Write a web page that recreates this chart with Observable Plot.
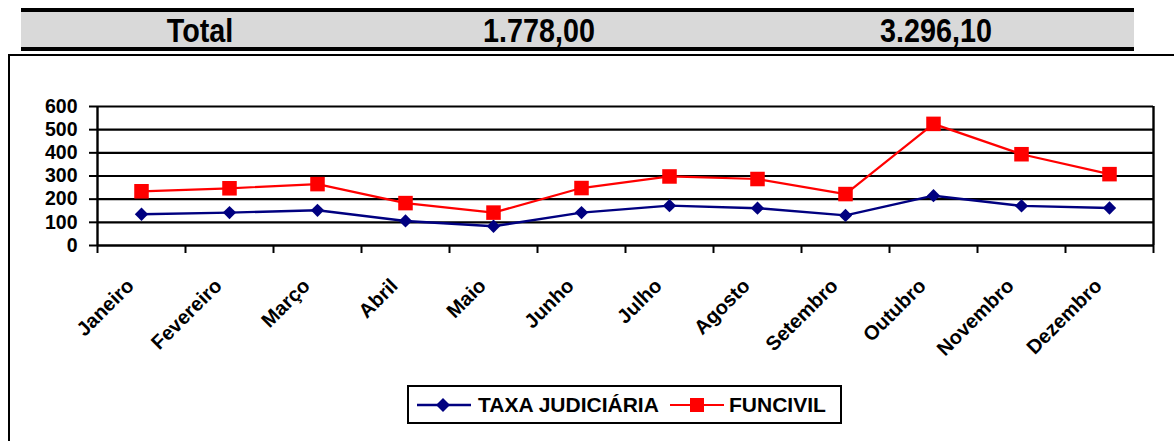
<!DOCTYPE html>
<html>
<head>
<meta charset="utf-8">
<script src="https://cdn.jsdelivr.net/npm/d3@7"></script>
<script src="https://cdn.jsdelivr.net/npm/@observablehq/plot@0.6"></script>
<style>
  html, body { margin: 0; padding: 0; background: #fff; }
  #page { position: relative; width: 1174px; height: 441px; overflow: hidden; font-family: "Liberation Sans", Arial, sans-serif; }
  #band { position: absolute; left: 21px; top: 8px; width: 1113px; height: 35px; background: #d9d9d9;
          border-top: 4px solid #000; border-bottom: 4px solid #000; }
  .bt { position: absolute; top: 0; height: 35px; line-height: 37px; font-family: "Liberation Sans", Arial, sans-serif;
        font-weight: bold; font-size: 33px; transform: translateX(-50%) scaleX(0.87); transform-origin: 50% 50%; white-space: nowrap; color: #000; }
  #frame { position: absolute; left: 8px; top: 54px; width: 1200px; height: 420px; border: 2px solid #000; box-sizing: border-box; }
  #chart { position: absolute; left: 0; top: 57px; }
  #legend { position: absolute; left: 407px; top: 385px; width: 435px; height: 39px; border: 2px solid #000; box-sizing: border-box; background: #fff; }
  #legend svg { position: absolute; left: 0; top: 0; }
  .lt { position: absolute; top: 0; line-height: 35px; font-weight: bold; font-size: 21px; color: #000; white-space: nowrap; }
</style>
</head>
<body>
<div id="page">
  <div id="band"></div>
  <div id="frame"></div>
  <div id="chart"></div>
  <div id="legend"></div>
</div>
<script>
const totalLabels = ["Total", "1.778,00", "3.296,10"];
const months = ["Janeiro","Fevereiro","Março","Abril","Maio","Junho","Julho","Agosto","Setembro","Outubro","Novembro","Dezembro"];
const taxa = [135, 142, 152, 106, 83, 142, 172, 161, 130, 215, 171, 162];
const funcivil = [234, 247, 265, 183, 142, 248, 298, 287, 222, 525, 394, 308];
const seriesNames = ["TAXA JUDICIÁRIA", "FUNCIVIL"];
const yTicks = [0, 100, 200, 300, 400, 500, 600];

// top band
const band = document.getElementById("band");
const bandCenters = [179, 518, 915];
totalLabels.forEach((t, i) => {
  const d = document.createElement("div");
  d.className = "bt";
  d.style.left = bandCenters[i] + "px";
  d.textContent = t;
  band.appendChild(d);
});

const rows = [];
months.forEach((m, i) => {
  rows.push({month: m, idx: i + 0.5, value: taxa[i], series: seriesNames[0]});
});
months.forEach((m, i) => {
  rows.push({month: m, idx: i + 0.5, value: funcivil[i], series: seriesNames[1]});
});
const labelRows = months.map((m, i) => ({month: m, idx: i + 0.5}));
const taxaRows = rows.filter(d => d.series === seriesNames[0]);
const funRows = rows.filter(d => d.series === seriesNames[1]);

const chart = Plot.plot({
  width: 1174,
  height: 384,
  marginTop: 49,
  marginBottom: 196,
  marginLeft: 97,
  marginRight: 21,
  style: {color: "#000", background: "transparent", fontFamily: "'Liberation Sans', Arial, sans-serif"},
  x: {type: "linear", domain: [0, months.length]},
  y: {domain: [0, 600]},
  marks: [
    Plot.ruleY(yTicks.filter(v => v > 0), {stroke: "#000", strokeWidth: 2.2}),
    Plot.ruleY([0], {stroke: "#000", strokeWidth: 2.6}),
    Plot.ruleX([0, months.length], {y1: 0, y2: 600, stroke: "#000", strokeWidth: 2.4}),
    Plot.axisY({ticks: yTicks, tickSize: 8, tickPadding: 12, fontSize: 19.5, fontWeight: "bold", label: null, strokeWidth: 2}),
    Plot.axisX({ticks: d3.range(months.length + 1), tickSize: 8, tickFormat: () => "", label: null, strokeWidth: 2}),
    Plot.text(labelRows, {x: "idx", y: () => 0, text: "month", rotate: -45, textAnchor: "end", dx: -11, dy: 37,
      fontSize: 20, fontWeight: "bold", fill: "#000"}),
    Plot.line(taxaRows, {x: "idx", y: "value", stroke: "#000080", strokeWidth: 2.4}),
    Plot.line(funRows, {x: "idx", y: "value", stroke: "#ff0000", strokeWidth: 2.2}),
    Plot.dot(taxaRows, {x: "idx", y: "value", symbol: "diamond2", r: 6, fill: "#000080", stroke: "none"}),
    Plot.dot(funRows, {x: "idx", y: "value", symbol: "square", r: 8.2, fill: "#ff0000", stroke: "none"})
  ]
});
document.getElementById("chart").appendChild(chart);

// legend
const legend = document.getElementById("legend");
const ns = "http://www.w3.org/2000/svg";
const lsvg = document.createElementNS(ns, "svg");
lsvg.setAttribute("width", 435);
lsvg.setAttribute("height", 39);
function el(tag, attrs) {
  const e = document.createElementNS(ns, tag);
  for (const k in attrs) e.setAttribute(k, attrs[k]);
  lsvg.appendChild(e);
  return e;
}
el("line", {x1: 8, x2: 62, y1: 18, y2: 18, stroke: "#000080", "stroke-width": 2.4});
el("path", {d: "M34,11 L41,18 L34,25 L27,18 Z", fill: "#000080"});
el("line", {x1: 261, x2: 315, y1: 18, y2: 18, stroke: "#ff0000", "stroke-width": 2.2});
el("rect", {x: 281, y: 11, width: 14, height: 14, fill: "#ff0000"});
legend.appendChild(lsvg);
[[69, seriesNames[0]], [320, seriesNames[1]]].forEach(([x, t]) => {
  const d = document.createElement("div");
  d.className = "lt";
  d.style.left = x + "px";
  d.textContent = t;
  legend.appendChild(d);
});
</script>
</body>
</html>
